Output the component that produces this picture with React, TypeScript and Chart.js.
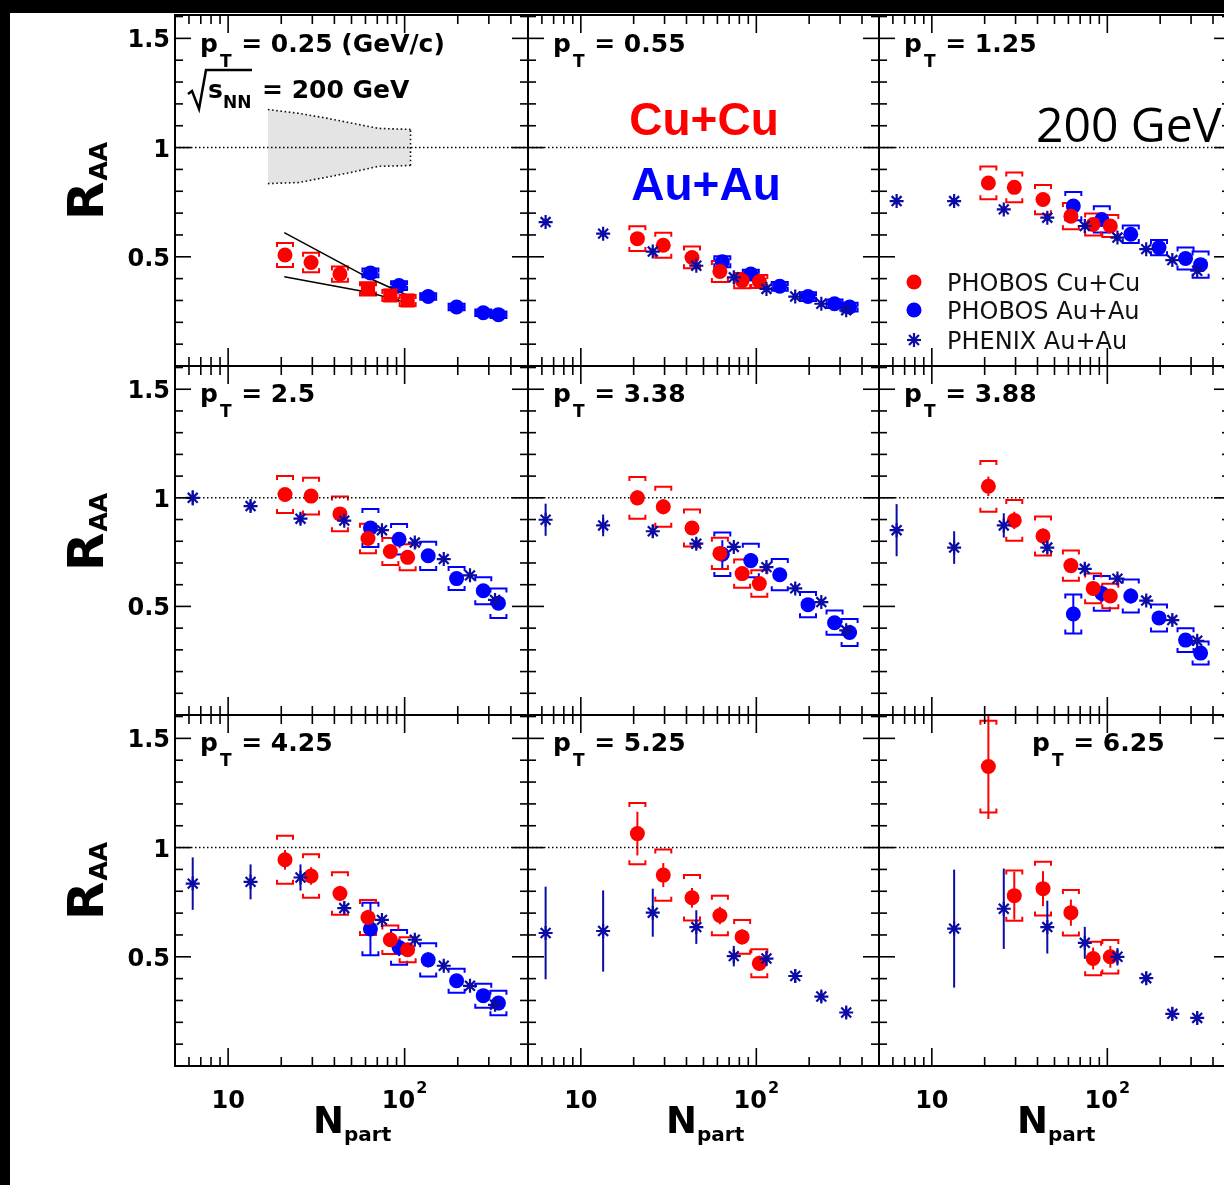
import React, { useEffect, useRef } from 'react';
import { Chart, registerables } from 'chart.js';

Chart.register(...registerables);

// ---------------- data ----------------
const ptLabels = ['0.25 (GeV/c)', '0.55', '1.25', '2.5', '3.38', '3.88', '4.25', '5.25', '6.25'];

const npartCuCu = [21, 29.5, 43, 62, 83, 104];
const npartAuAu = [64, 93, 136, 197, 279, 340];
const npartPhenix = [6.3, 13.4, 25.7, 45.5, 74.4, 114.2, 166.6, 234.6, 325.2];

// PHOBOS Cu+Cu R_AA per panel (pT order)
const cuCuRaa = [
  [0.508, 0.474, 0.421, 0.353, 0.323, 0.3],
  [0.583, 0.553, 0.497, 0.433, 0.391, 0.387],
  [0.838, 0.818, 0.762, 0.686, 0.648, 0.641],
  [1.015, 1.008, 0.926, 0.813, 0.753, 0.726],
  [1.0, 0.959, 0.861, 0.744, 0.651, 0.605],
  [1.053, 0.896, 0.824, 0.688, 0.583, 0.548],
  [0.944, 0.87, 0.79, 0.68, 0.578, 0.532],
  [1.064, 0.874, 0.77, 0.689, 0.591, 0.47],
  [1.371, 0.78, 0.812, 0.702, 0.492, 0.5],
];
const cuCuStat = [
  [0.02, 0.02, 0.02, 0.015, 0.015, 0.015],
  [0.02, 0.02, 0.02, 0.02, 0.015, 0.015],
  [0.025, 0.025, 0.02, 0.02, 0.02, 0.02],
  [0.03, 0.03, 0.03, 0.025, 0.025, 0.025],
  [0.035, 0.035, 0.03, 0.03, 0.03, 0.03],
  [0.045, 0.04, 0.035, 0.035, 0.03, 0.03],
  [0.045, 0.04, 0.035, 0.035, 0.03, 0.03],
  [0.1, 0.055, 0.045, 0.04, 0.035, 0.035],
  [0.24, 0.11, 0.08, 0.06, 0.05, 0.05],
];
const cuCuSys = [
  [0.055, 0.045, 0.035, 0.03, 0.025, 0.025],
  [0.057, 0.057, 0.05, 0.048, 0.035, 0.03],
  [0.075, 0.068, 0.067, 0.06, 0.05, 0.05],
  [0.085, 0.085, 0.08, 0.068, 0.062, 0.06],
  [0.096, 0.092, 0.085, 0.072, 0.065, 0.061],
  [0.117, 0.094, 0.09, 0.07, 0.068, 0.056],
  [0.11, 0.1, 0.097, 0.08, 0.065, 0.057],
  [0.14, 0.117, 0.104, 0.09, 0.077, 0.064],
  [0.21, 0.115, 0.123, 0.104, 0.077, 0.077],
];

// PHOBOS Au+Au R_AA per panel (null = not shown)
const auAuRaa = [
  [0.426, 0.368, 0.318, 0.27, 0.244, 0.235],
  [0.477, 0.421, 0.365, 0.318, 0.285, 0.27],
  [0.732, 0.671, 0.603, 0.542, 0.492, 0.464],
  [0.861, 0.809, 0.733, 0.628, 0.572, 0.515],
  [0.74, 0.711, 0.646, 0.508, 0.425, 0.38],
  [0.465, 0.56, 0.548, 0.447, 0.345, 0.285],
  [0.627, 0.543, 0.486, 0.39, 0.322, 0.288],
  null,
  null,
];
const auAuStat = [
  [0.015, 0.015, 0.015, 0.015, 0.015, 0.015],
  [0.015, 0.015, 0.015, 0.015, 0.015, 0.015],
  [0.02, 0.02, 0.02, 0.02, 0.02, 0.02],
  [0.025, 0.025, 0.025, 0.025, 0.025, 0.025],
  [0.065, 0.035, 0.03, 0.025, 0.025, 0.025],
  [0.09, 0.04, 0.035, 0.03, 0.03, 0.03],
  [0.12, 0.04, 0.035, 0.03, 0.03, 0.03],
  null,
  null,
];
const auAuSys = [
  [0.02, 0.02, 0.015, 0.015, 0.015, 0.015],
  [0.025, 0.02, 0.02, 0.02, 0.02, 0.02],
  [0.065, 0.06, 0.04, 0.035, 0.05, 0.06],
  [0.088, 0.07, 0.065, 0.053, 0.062, 0.068],
  [0.1, 0.077, 0.072, 0.058, 0.056, 0.062],
  [0.09, 0.08, 0.076, 0.062, 0.055, 0.053],
  [0.12, 0.08, 0.076, 0.055, 0.055, 0.056],
  null,
  null,
];

// PHENIX Au+Au R_AA per panel
const phenixRaa = [
  null,
  [0.659, 0.606, 0.524, 0.459, 0.406, 0.353, 0.318, 0.285, 0.255],
  [0.755, 0.755, 0.717, 0.679, 0.641, 0.588, 0.535, 0.485, 0.436],
  [1.0, 0.962, 0.904, 0.895, 0.851, 0.794, 0.718, 0.643, 0.53],
  [0.899, 0.873, 0.846, 0.789, 0.774, 0.681, 0.583, 0.52, 0.39],
  [0.851, 0.771, 0.873, 0.771, 0.673, 0.628, 0.527, 0.437, 0.342],
  [0.835, 0.843, 0.863, 0.723, 0.669, 0.578, 0.459, 0.367, 0.28],
  [0.609, 0.618, 0.702, 0.636, 0.503, 0.492, 0.412, 0.318, 0.245],
  [null, 0.629, 0.72, 0.636, 0.564, 0.5, 0.402, 0.239, 0.22],
];
const phenixErr = [
  null,
  [0.015, 0.015, 0.015, 0.015, 0.015, 0.015, 0.015, 0.015, 0.015],
  [0.015, 0.015, 0.015, 0.015, 0.015, 0.015, 0.015, 0.015, 0.015],
  [0.035, 0.025, 0.025, 0.02, 0.02, 0.02, 0.015, 0.015, 0.015],
  [0.074, 0.05, 0.03, 0.025, 0.02, 0.02, 0.02, 0.015, 0.015],
  [0.12, 0.075, 0.056, 0.03, 0.025, 0.02, 0.02, 0.02, 0.02],
  [0.12, 0.08, 0.06, 0.03, 0.025, 0.02, 0.02, 0.02, 0.02],
  [0.212, 0.186, 0.11, 0.077, 0.047, 0.035, 0.03, 0.025, 0.025],
  [null, 0.27, 0.184, 0.121, 0.073, 0.04, 0.03, 0.03, 0.03],
];

// normalisation band (first panel)
const bandNpart = [16.8, 25.1, 36, 51.6, 70.8, 108];
const bandUpper = [1.174, 1.157, 1.135, 1.11, 1.088, 1.083];
const bandLower = [0.835, 0.84, 0.864, 0.889, 0.914, 0.918];

// model curves (first panel)
const curveNpart = [20.8, 62, 104];
const curveUpper = [0.611, 0.405, 0.323];
const curveLower = [0.409, 0.338, 0.289];

// reference line R_AA = 1
const refNpart = [5, 500];
const refRaa = [1, 1];

// axes
const xMin = 5;
const xMax = 500;
const yMin = 0;
const yMax = 1.607;
const xMajorTicks = [10, 100];
const xMajorBase = ['10', '10'];
const xMajorExp = ['', '2'];
const xMinorTicks = [6, 7, 8, 9, 20, 30, 40, 50, 60, 70, 80, 90, 200, 300, 400];
const yMajorTicks = [0.5, 1, 1.5];
const yMajorLabels = ['0.5', '1', '1.5'];
const yMinorTicks = [0.1, 0.2, 0.3, 0.4, 0.6, 0.7, 0.8, 0.9, 1.1, 1.2, 1.3, 1.4, 1.6];

const legendLabels = ['PHOBOS Cu+Cu', 'PHOBOS Au+Au', 'PHENIX Au+Au'];

// ---------------- layout / style ----------------
const CW = 1240;
const CH = 1185;
const colEdges = [175, 528, 879, 1230];
const rowEdges = [15, 366, 715, 1066];

const RED = '#ff0000';
const BLUE = '#0000ff';
const NAVY = '#0b0ba6';
const BOLD = '"DejaVu Sans", sans-serif';

function line(ctx: CanvasRenderingContext2D, x1: number, y1: number, x2: number, y2: number) {
  ctx.beginPath();
  ctx.moveTo(x1, y1);
  ctx.lineTo(x2, y2);
  ctx.stroke();
}

function drawErrors(
  chart: any,
  xs: number[],
  ys: (number | null)[] | null,
  stat: (number | null)[] | null,
  sys: (number | null)[] | null,
  color: string
) {
  if (!ys) return;
  const ctx: CanvasRenderingContext2D = chart.ctx;
  const xS = chart.scales.x;
  const yS = chart.scales.y;
  ctx.strokeStyle = color;
  ctx.lineWidth = 2;
  ys.forEach((v, i) => {
    if (v == null) return;
    const px = xS.getPixelForValue(xs[i]);
    if (stat && stat[i]) {
      line(ctx, px, yS.getPixelForValue(v + (stat[i] as number)), px, yS.getPixelForValue(v - (stat[i] as number)));
    }
    if (sys && sys[i]) {
      const t = yS.getPixelForValue(v + (sys[i] as number));
      const b = yS.getPixelForValue(v - (sys[i] as number));
      const w = 8;
      const h = 4;
      ctx.beginPath();
      ctx.moveTo(px - w, t + h);
      ctx.lineTo(px - w, t);
      ctx.lineTo(px + w, t);
      ctx.lineTo(px + w, t + h);
      ctx.moveTo(px - w, b - h);
      ctx.lineTo(px - w, b);
      ctx.lineTo(px + w, b);
      ctx.lineTo(px + w, b - h);
      ctx.stroke();
    }
  });
}

function drawStar(ctx: CanvasRenderingContext2D, x: number, y: number, r: number, color: string) {
  ctx.strokeStyle = color;
  ctx.lineWidth = 2.2;
  const d = r * Math.SQRT1_2;
  line(ctx, x - r, y, x + r, y);
  line(ctx, x, y - r, x, y + r);
  line(ctx, x - d, y - d, x + d, y + d);
  line(ctx, x - d, y + d, x + d, y - d);
}

function toPoints(xs: number[], ys: (number | null)[] | null) {
  if (!ys) return [];
  const out: { x: number; y: number }[] = [];
  ys.forEach((v, i) => {
    if (v != null) out.push({ x: xs[i], y: v });
  });
  return out;
}

const dotted = {
  type: 'line',
  borderColor: '#111',
  borderWidth: 1.6,
  borderDash: [1.6, 2.6],
  fill: false,
  pointRadius: 0,
};

function buildConfig(p: number): any {
  const col = p % 3;
  const row = Math.floor(p / 3);
  const L = colEdges[col];
  const R = colEdges[col + 1];
  const T = rowEdges[row];
  const B = rowEdges[row + 1];

  const datasets: any[] = [];
  datasets.push({
    ...dotted,
    data: refNpart.map((x, i) => ({ x, y: refRaa[i] })),
    borderColor: '#000',
    borderWidth: 1.5,
    borderDash: [1.5, 2.5],
    order: 10,
  });
  if (p === 0) {
    // band fill (no border), then dotted outlines on top
    datasets.push({
      type: 'line',
      data: bandNpart.map((x, i) => ({ x, y: bandUpper[i] })),
      borderWidth: 0,
      borderColor: 'rgba(0,0,0,0)',
      backgroundColor: '#e4e4e4',
      fill: '+1',
      pointRadius: 0,
      order: 30,
    });
    datasets.push({
      type: 'line',
      data: bandNpart.map((x, i) => ({ x, y: bandLower[i] })),
      borderWidth: 0,
      borderColor: 'rgba(0,0,0,0)',
      fill: false,
      pointRadius: 0,
      order: 30,
    });
    datasets.push({ ...dotted, data: bandNpart.map((x, i) => ({ x, y: bandUpper[i] })), order: 15 });
    datasets.push({ ...dotted, data: bandNpart.map((x, i) => ({ x, y: bandLower[i] })), order: 15 });
    const last = bandNpart.length - 1;
    datasets.push({
      ...dotted,
      data: [
        { x: bandNpart[last], y: bandLower[last] },
        { x: bandNpart[last], y: bandUpper[last] },
      ],
      order: 15,
    });
    datasets.push({
      type: 'line',
      data: curveNpart.map((x, i) => ({ x, y: curveUpper[i] })),
      borderColor: '#000',
      borderWidth: 1.5,
      fill: false,
      pointRadius: 0,
      order: 4,
    });
    datasets.push({
      type: 'line',
      data: curveNpart.map((x, i) => ({ x, y: curveLower[i] })),
      borderColor: '#000',
      borderWidth: 1.5,
      fill: false,
      pointRadius: 0,
      order: 4,
    });
  }
  if (auAuRaa[p]) {
    datasets.push({
      label: legendLabels[1],
      data: toPoints(npartAuAu, auAuRaa[p]),
      pointStyle: 'circle',
      pointRadius: 7.5,
      pointBorderWidth: 0,
      backgroundColor: BLUE,
      borderColor: BLUE,
      order: 3,
    });
  }
  datasets.push({
    label: legendLabels[0],
    data: toPoints(npartCuCu, cuCuRaa[p]),
    pointStyle: p === 0 ? ['circle', 'circle', 'circle', 'rect', 'rect', 'rect'] : 'circle',
    pointRadius: p === 0 ? [7.5, 7.5, 7.5, 10, 10, 10] : 7.5,
    pointBorderWidth: 0,
    backgroundColor: RED,
    borderColor: RED,
    order: 2,
  });
  if (phenixRaa[p]) {
    datasets.push({
      label: legendLabels[2],
      data: toPoints(npartPhenix, phenixRaa[p]),
      pointStyle: 'star',
      pointRadius: 7,
      pointBorderWidth: 2.2,
      backgroundColor: NAVY,
      borderColor: NAVY,
      order: 1,
    });
  }

  const panelPlugin = {
    id: 'panelDecor' + p,
    beforeDatasetsDraw(chart: any) {
      const ctx: CanvasRenderingContext2D = chart.ctx;
      const a = chart.chartArea;
      ctx.save();
      ctx.beginPath();
      ctx.rect(a.left, a.top, a.right - a.left, a.bottom - a.top);
      ctx.clip();
      drawErrors(chart, npartAuAu, auAuRaa[p], auAuStat[p], auAuSys[p], BLUE);
      drawErrors(chart, npartCuCu, cuCuRaa[p], cuCuStat[p], cuCuSys[p], RED);
      drawErrors(chart, npartPhenix, phenixRaa[p], phenixErr[p], null, NAVY);
      ctx.restore();
    },
    afterDraw(chart: any) {
      const ctx: CanvasRenderingContext2D = chart.ctx;
      const a = chart.chartArea;
      const xS = chart.scales.x;
      const yS = chart.scales.y;
      ctx.save();
      // ticks
      ctx.strokeStyle = '#000';
      ctx.lineWidth = 1.6;
      yMajorTicks.forEach((v) => {
        const py = yS.getPixelForValue(v);
        line(ctx, a.left, py, a.left + 16, py);
        line(ctx, a.right, py, a.right - 16, py);
      });
      yMinorTicks.forEach((v) => {
        const py = yS.getPixelForValue(v);
        line(ctx, a.left, py, a.left + 8, py);
        line(ctx, a.right, py, a.right - 8, py);
      });
      xMajorTicks.forEach((v) => {
        const px = xS.getPixelForValue(v);
        line(ctx, px, a.bottom, px, a.bottom - 18);
        line(ctx, px, a.top, px, a.top + 18);
      });
      xMinorTicks.forEach((v) => {
        const px = xS.getPixelForValue(v);
        line(ctx, px, a.bottom, px, a.bottom - 9);
        line(ctx, px, a.top, px, a.top + 9);
      });
      ctx.lineWidth = 2;
      ctx.strokeRect(a.left, a.top, a.right - a.left, a.bottom - a.top);

      ctx.fillStyle = '#000';
      ctx.textBaseline = 'alphabetic';
      // y tick labels + title
      if (col === 0) {
        ctx.font = 'bold 24px ' + BOLD;
        ctx.textAlign = 'right';
        yMajorTicks.forEach((v, i) => {
          const py = yS.getPixelForValue(v);
          ctx.fillText(yMajorLabels[i], a.left - 5, py + 9);
        });
        ctx.save();
        ctx.translate(103, T + 205);
        ctx.rotate(-Math.PI / 2);
        ctx.textAlign = 'left';
        ctx.font = 'bold 50px ' + BOLD;
        ctx.fillText('R', 0, 0);
        const rw = ctx.measureText('R').width;
        ctx.font = 'bold 25px ' + BOLD;
        ctx.fillText('AA', rw + 1, 4);
        ctx.restore();
      }
      // x tick labels + title
      if (row === 2) {
        xMajorTicks.forEach((v, i) => {
          const px = xS.getPixelForValue(v);
          ctx.font = 'bold 24px ' + BOLD;
          const bw = ctx.measureText(xMajorBase[i]).width;
          let ew = 0;
          if (xMajorExp[i]) {
            ctx.font = 'bold 16px ' + BOLD;
            ew = ctx.measureText(xMajorExp[i]).width + 1;
          }
          const x0 = px - (bw + ew) / 2;
          ctx.textAlign = 'left';
          ctx.font = 'bold 24px ' + BOLD;
          ctx.fillText(xMajorBase[i], x0, a.bottom + 42);
          if (xMajorExp[i]) {
            ctx.font = 'bold 16px ' + BOLD;
            ctx.fillText(xMajorExp[i], x0 + bw + 1, a.bottom + 27);
          }
        });
        ctx.textAlign = 'left';
        ctx.font = 'bold 37px ' + BOLD;
        ctx.fillText('N', a.left + 138, a.bottom + 67);
        const nw = ctx.measureText('N').width;
        ctx.font = 'bold 20px ' + BOLD;
        ctx.fillText('part', a.left + 138 + nw, a.bottom + 75);
      }
      // panel label
      {
        const lx = a.left + (p === 8 ? 153 : 25);
        const by = a.top + (row === 0 ? 37 : 36);
        ctx.textAlign = 'left';
        ctx.font = 'bold 25px ' + BOLD;
        ctx.fillText('p', lx, by);
        const pw = ctx.measureText('p').width;
        ctx.font = 'bold 17px ' + BOLD;
        ctx.fillText('T', lx + pw + 2, by + 15);
        const tw = ctx.measureText('T').width;
        ctx.font = 'bold 25px ' + BOLD;
        ctx.fillText(' = ' + ptLabels[p], lx + pw + tw + 3, by);
      }
      if (p === 0) {
        ctx.strokeStyle = '#000';
        ctx.lineWidth = 2.5;
        ctx.beginPath();
        ctx.moveTo(188, 94);
        ctx.lineTo(192, 91);
        ctx.lineTo(199, 109);
        ctx.lineTo(206, 70);
        ctx.lineTo(252, 70);
        ctx.stroke();
        ctx.font = 'bold 25px ' + BOLD;
        ctx.fillText('s', 208, 98);
        ctx.font = 'bold 17px ' + BOLD;
        ctx.fillText('NN', 223, 108);
        ctx.font = 'bold 25px ' + BOLD;
        ctx.fillText('= 200 GeV', 262, 98);
      }
      if (p === 1) {
        ctx.textAlign = 'center';
        ctx.font = 'bold 46px "Liberation Sans", Arial, sans-serif';
        ctx.fillStyle = RED;
        ctx.fillText('Cu+Cu', 704, 135);
        ctx.fillStyle = BLUE;
        ctx.fillText('Au+Au', 706, 200);
      }
      if (p === 2) {
        ctx.textAlign = 'left';
        ctx.fillStyle = '#000';
        ctx.font = '48px "Open Sans", sans-serif';
        ctx.fillText('200 GeV', 1036, 142);
        const rows = [T + 267, T + 295, T + 325];
        const mx = a.left + 35;
        ctx.fillStyle = RED;
        ctx.beginPath();
        ctx.arc(mx, rows[0], 7.5, 0, Math.PI * 2);
        ctx.fill();
        ctx.fillStyle = BLUE;
        ctx.beginPath();
        ctx.arc(mx, rows[1], 7.5, 0, Math.PI * 2);
        ctx.fill();
        drawStar(ctx, mx, rows[2], 7, NAVY);
        ctx.fillStyle = '#111';
        ctx.font = '24px "DejaVu Sans", sans-serif';
        legendLabels.forEach((s, i) => ctx.fillText(s, a.left + 68, rows[i] + 9));
      }
      ctx.restore();
    },
  };

  return {
    type: 'scatter',
    data: { datasets },
    options: {
      animation: false,
      responsive: false,
      devicePixelRatio: 1,
      events: [],
      layout: { padding: { left: L, top: T, right: CW - R, bottom: CH - B } },
      plugins: { legend: { display: false }, tooltip: { enabled: false } },
      scales: {
        x: { type: 'logarithmic', min: xMin, max: xMax, display: false },
        y: { type: 'linear', min: yMin, max: yMax, display: false },
      },
    },
    plugins: [panelPlugin],
  };
}

function Panel({ index }: { index: number }) {
  const ref = useRef<HTMLCanvasElement>(null);
  useEffect(() => {
    const chart = new Chart(ref.current as HTMLCanvasElement, buildConfig(index));
    return () => chart.destroy();
  }, [index]);
  return (
    <canvas
      ref={ref}
      width={CW}
      height={CH}
      style={{ position: 'absolute', left: 0, top: 0, width: CW, height: CH }}
    />
  );
}

export default function App() {
  return (
    <div
      style={{
        position: 'absolute',
        left: 0,
        top: 0,
        width: 1224,
        height: 1185,
        overflow: 'hidden',
        background: '#fff',
      }}
    >
      <div style={{ position: 'absolute', left: 0, top: 0, width: 1224, height: 13, background: '#000' }} />
      <div style={{ position: 'absolute', left: 0, top: 0, width: 10, height: 1185, background: '#000' }} />
      {ptLabels.map((_, i) => (
        <Panel key={i} index={i} />
      ))}
    </div>
  );
}
